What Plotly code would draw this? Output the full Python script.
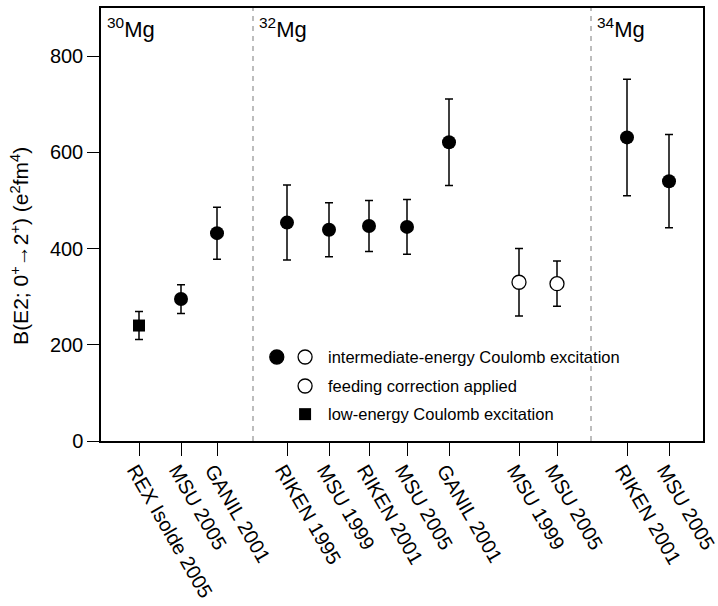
import plotly.graph_objects as go

# ---------------- data ----------------
labels = ["REX Isolde 2005", "MSU 2005", "GANIL 2001",
          "RIKEN 1995", "MSU 1999", "RIKEN 2001", "MSU 2005", "GANIL 2001",
          "MSU 1999", "MSU 2005",
          "RIKEN 2001", "MSU 2005"]
xpos = [0.95, 2.0, 2.9, 4.65, 5.7, 6.7, 7.65, 8.7, 10.45, 11.4, 13.15, 14.2]
values = [240, 295, 432, 454, 439, 447, 445, 621, 330, 327, 631, 540]
errors = [29, 30, 54, 78, 56, 53, 57, 90, 70, 47, 121, 97]
kinds = ["low", "int", "int", "int", "int", "int", "int", "int",
         "feed", "feed", "int", "int"]
dividers = [3.8, 12.25]
isotopes = ["30", "32", "34"]
iso_x = [0.0, 3.8, 12.25]
yticks = [0, 200, 400, 600, 800]
legend_rows = ["intermediate-energy Coulomb excitation",
               "feeding correction applied",
               "low-energy Coulomb excitation"]
ytitle = "B(E2; 0<sup>+</sup>→2<sup>+</sup>) (e<sup>2</sup>fm<sup>4</sup>)"

FONT = "Liberation Sans, Arial, sans-serif"

fig = go.Figure()


def subset(kind):
    idx = [i for i, k in enumerate(kinds) if k == kind]
    return ([xpos[i] for i in idx], [values[i] for i in idx],
            [errors[i] for i in idx])


err_style = dict(type="data", symmetric=True, color="black",
                 thickness=1.5, width=4)

x, y, e = subset("low")
fig.add_trace(go.Scatter(x=x, y=y, mode="markers",
                         error_y=dict(array=e, **err_style),
                         marker=dict(symbol="square", size=12, color="black"),
                         showlegend=False, cliponaxis=False))
x, y, e = subset("int")
fig.add_trace(go.Scatter(x=x, y=y, mode="markers",
                         error_y=dict(array=e, **err_style),
                         marker=dict(symbol="circle", size=14, color="black"),
                         showlegend=False, cliponaxis=False))
x, y, e = subset("feed")
fig.add_trace(go.Scatter(x=x, y=y, mode="markers",
                         error_y=dict(array=e, **err_style),
                         marker=dict(symbol="circle", size=14, color="white",
                                     line=dict(color="black", width=1.3)),
                         showlegend=False, cliponaxis=False))

shapes = []
for d in dividers:
    shapes.append(dict(type="line", xref="x", yref="paper", x0=d, x1=d,
                       y0=0, y1=1,
                       line=dict(color="#9a9a9a", width=1.3, dash="5px,5px")))

# legend symbols (layout decoration)
row_y = [0.194, 0.127, 0.062]
def circ(xp, yp, filled):
    return dict(type="circle", xref="paper", yref="paper",
                xsizemode="pixel", ysizemode="pixel",
                xanchor=xp, yanchor=yp, x0=-7, x1=7, y0=-7, y1=7,
                fillcolor="black" if filled else "white",
                line=dict(color="black", width=1.3))
shapes.append(circ(0.292, row_y[0], True))
shapes.append(circ(0.339, row_y[0], False))
shapes.append(circ(0.339, row_y[1], False))
shapes.append(dict(type="rect", xref="paper", yref="paper",
                   xsizemode="pixel", ysizemode="pixel",
                   xanchor=0.339, yanchor=row_y[2], x0=-6, x1=6, y0=-6, y1=6,
                   fillcolor="black", line=dict(color="black", width=0)))

annotations = []
for txt, yy in zip(legend_rows, row_y):
    annotations.append(dict(text=txt, xref="paper", yref="paper",
                            x=0.374, y=yy, xanchor="left", yanchor="middle",
                            showarrow=False,
                            font=dict(size=16.5, color="black", family=FONT)))
for iso, xx in zip(isotopes, iso_x):
    annotations.append(dict(text="<sup>" + iso + "</sup>Mg", xref="x",
                            yref="paper", x=xx, y=0.99, xanchor="left",
                            yanchor="top", xshift=4, showarrow=False,
                            font=dict(size=22, color="black", family=FONT)))
annotations.append(dict(text=ytitle, xref="paper", yref="paper",
                        x=-0.135, y=0.45, xanchor="center", yanchor="middle",
                        textangle=-90, showarrow=False,
                        font=dict(size=21, color="black", family=FONT)))

fig.update_layout(
    width=718, height=606,
    margin=dict(l=101, r=15, t=8, b=165, autoexpand=False),
    paper_bgcolor="white", plot_bgcolor="white",
    font=dict(family=FONT, color="black", size=20),
    shapes=shapes, annotations=annotations,
    showlegend=False,
)
fig.update_xaxes(range=[0, 15.05], tickvals=xpos, ticktext=labels,
                 tickangle=60, ticks="outside", ticklen=13, tickwidth=1.3,
                 tickcolor="black", showline=True, linecolor="black",
                 linewidth=1.5, mirror=True, showgrid=False, zeroline=False,
                 tickfont=dict(size=20), automargin=False,
                 ticklabeloverflow="allow", ticklabelshift=-4,
                 ticklabelstandoff=-5)
fig.update_yaxes(range=[0, 900], tickvals=yticks, ticks="outside",
                 ticklen=12, tickwidth=1.3, tickcolor="black",
                 showline=True, linecolor="black", linewidth=1.5,
                 mirror=True, showgrid=False, zeroline=False,
                 tickfont=dict(size=20), automargin=False)

fig.write_html("out.html", config={"displayModeBar": False},
               post_script="document.body.style.margin='0';")
